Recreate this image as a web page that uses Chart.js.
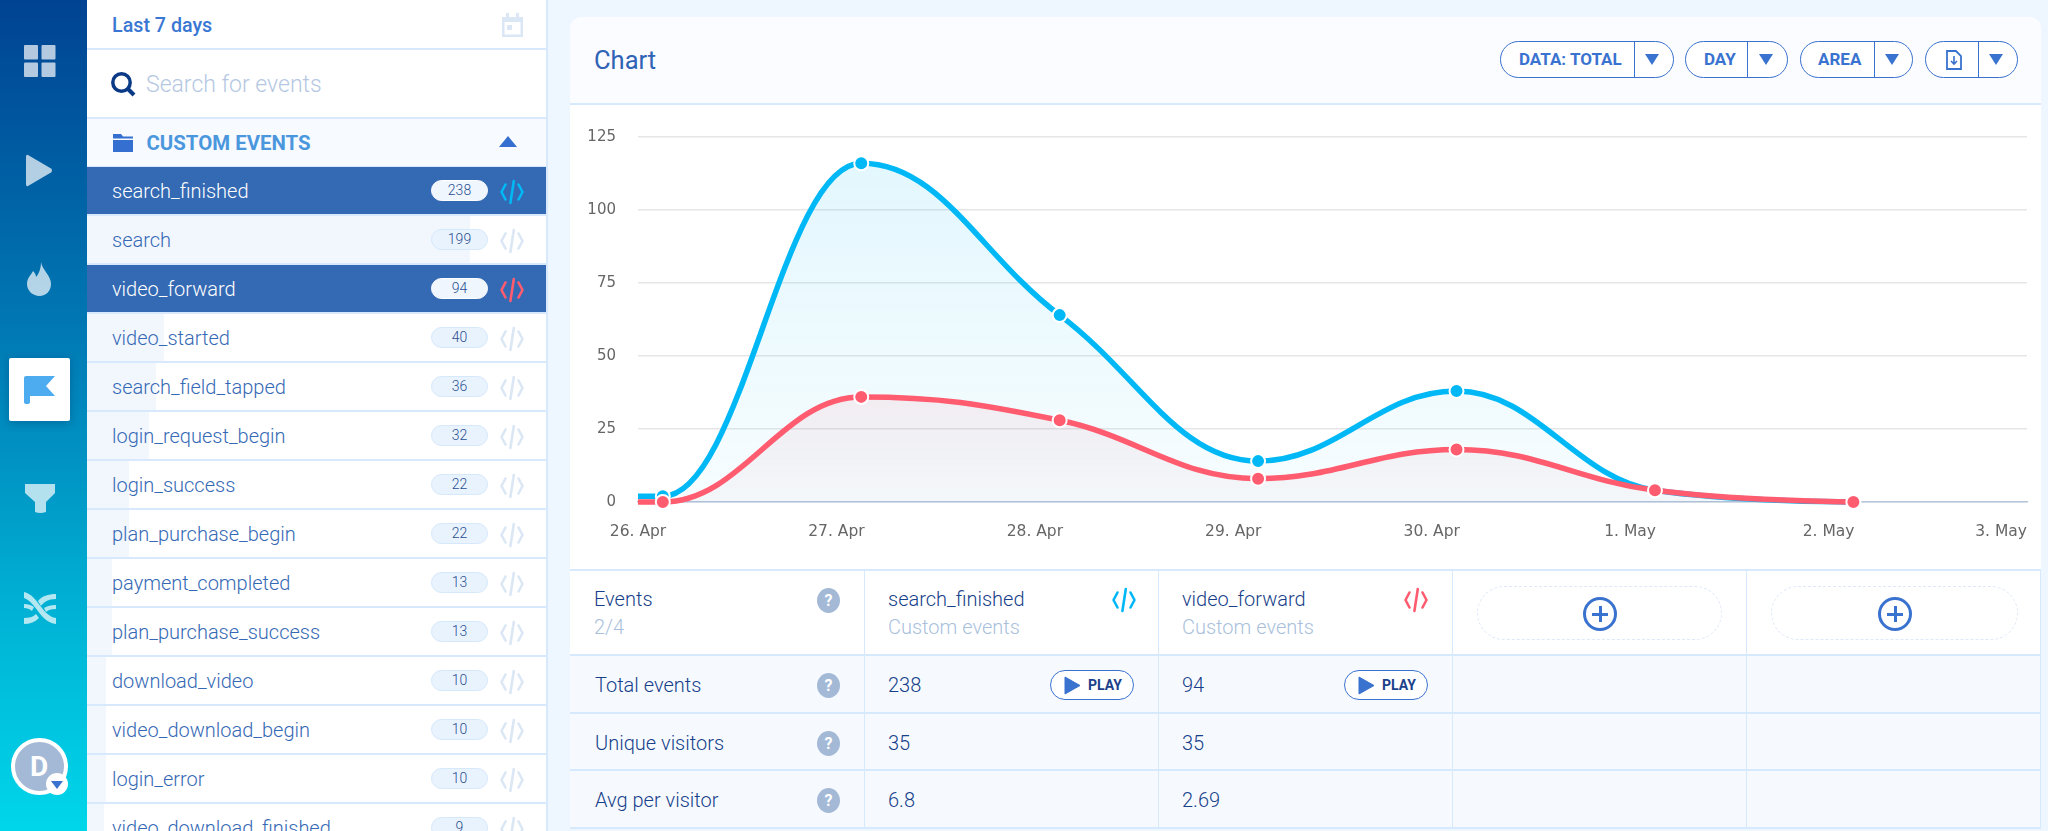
<!DOCTYPE html>
<html>
<head>
<meta charset="utf-8">
<title>Chart</title>
<script src="https://cdn.jsdelivr.net/npm/chart.js@4"></script>
<style>
    html, body { margin: 0; padding: 0; }
    body { width: 2048px; height: 831px; overflow: hidden; position: relative; background: #eef6ff; font-family: Roboto, sans-serif; }
    .abs, .abs-text { position: absolute; }
    .abs-text { white-space: nowrap; transform: translateY(-50%); }
    svg { position: absolute; overflow: visible; }
    #rail { left: 0; top: 0; width: 87px; height: 831px; background: linear-gradient(180deg, #004392 0%, #0079b4 40%, #00b4d6 75%, #00d6ea 100%); }
    #panel { left: 87px; top: 0; width: 459px; height: 831px; background: #fff; border-right: 2px solid #d8e9fd; box-sizing: content-box; overflow: hidden; }
    #card { left: 570px; top: 17px; width: 1471px; height: 811px; background: #fff; border-radius: 12px 12px 0 0; overflow: hidden; }
    #cardHeader { left: 0; top: 0; width: 1471px; height: 86px; background: #fafcff; border-bottom: 2px solid #d6e9fd; }
    #chartBox { left: 571px; top: 106px; width: 1470px; height: 463px; }
    .row { position: absolute; left: 0; width: 459px; height: 49px; box-sizing: border-box; border-bottom: 2px solid #d8e9fd; }
    .row .fill { position: absolute; left: 0; top: 0; bottom: 0; background: #f2f7fe; }
    .row.active { background: #3469b3; }
    .row.active .fill { display: none; }
    .row .name { position: absolute; left: 25px; top: 23.5px; transform: translateY(-50%); font-size: 20px; font-weight: 300; color: #3569b5; white-space: nowrap; }
    .row.active .name { color: #fff; }
    .row .badge { position: absolute; left: 344px; top: 13px; width: 57px; height: 21px; box-sizing: border-box; border-radius: 11px; background: #e9f3fe; border: 1px solid #d6e8fc; color: #2b4f91; font-size: 14px; font-weight: 300; text-align: center; line-height: 19px; }
    .row.active .badge { background: #eff6fe; border-color: #fff; }
    .pill { position: absolute; top: 41px; height: 37px; box-sizing: border-box; border: 1.5px solid #3a72cf; border-radius: 19px; background: #fff; }
    .pill .divider { position: absolute; top: 0; bottom: 0; width: 1.5px; background: #3a72cf; }
    .pill .caption { position: absolute; top: 17px; transform: translateY(-50%); font-size: 17px; font-weight: 700; color: #3a72cf; white-space: nowrap; }
    .tri { position: absolute; width: 0; height: 0; border-left: 7px solid transparent; border-right: 7px solid transparent; border-top: 11px solid #3a72cf; }
    .cell { position: absolute; box-sizing: border-box; border-right: 1.5px solid #d6e9fd; border-bottom: 2px solid #d6e9fd; }
    .help { position: absolute; width: 23px; height: 25px; border-radius: 50%; background: #a3b9d6; color: #fff; font-size: 16px; font-weight: 700; text-align: center; line-height: 25px; }
    .play { position: absolute; top: 670px; height: 30px; box-sizing: border-box; border: 1.5px solid #3a72cf; border-radius: 15px; background: #fff; color: #1c418b; font-size: 14px; font-weight: 700; }
    .dashed { position: absolute; top: 586px; height: 54px; box-sizing: border-box; border: 1.5px dashed #dfe8f8; border-radius: 27px; }
    .plus { position: absolute; top: 597px; width: 34px; height: 34px; box-sizing: border-box; border: 3px solid #3a72cf; border-radius: 50%; color: #3a72cf; }
    .plus:before { content: ""; position: absolute; left: 6px; top: 12.5px; width: 16px; height: 3px; background: #3a72cf; }
    .plus:after { content: ""; position: absolute; left: 12.5px; top: 6px; width: 3px; height: 16px; background: #3a72cf; }
</style>
</head>
<body>
<div id="rail" class="abs"></div>
<div id="panel" class="abs"></div>
<div id="card" class="abs"><div id="cardHeader" class="abs"></div></div>
<div id="chartBox" class="abs"><canvas id="eventsChart"></canvas></div>
<div id="overlay"></div>

<script>
// Chart data
const dayLabels = ['26. Apr', '27. Apr', '28. Apr', '29. Apr', '30. Apr', '1. May', '2. May', '3. May'];
// points sit 3 hours after each day tick, the first one is off the left edge
const sampleDays = [-0.875, 0.125, 1.125, 2.125, 3.125, 4.125, 5.125, 6.125];
const searchFinishedValues = [2, 2, 116, 64, 14, 38, 4, 0];
const videoForwardValues = [0, 0, 36, 28, 8, 18, 4, 0];
const pointSizes = [0, 7, 7, 7, 7, 7, 7, 7];

// Sidebar data
const eventNames = ['search_finished', 'search', 'video_forward', 'video_started', 'search_field_tapped', 'login_request_begin', 'login_success', 'plan_purchase_begin', 'payment_completed', 'plan_purchase_success', 'download_video', 'video_download_begin', 'login_error', 'video_download_finished'];
const eventCounts = [238, 199, 94, 40, 36, 32, 22, 22, 13, 13, 10, 10, 10, 9];
const selectedEvents = ['search_finished', 'video_forward'];

// Table data
const statLabels = ['Total events', 'Unique visitors', 'Avg per visitor'];
const searchFinishedStats = ['238', '35', '6.8'];
const videoForwardStats = ['94', '35', '2.69'];

const BLUE = '#00b8f5';
const RED = '#ff5c70';

const overlay = document.getElementById('overlay');
const panel = document.getElementById('panel');

function addText(parent, text, x, y, size, weight, color) {
    const el = document.createElement('div');
    el.className = 'abs-text';
    el.textContent = text;
    el.style.cssText = `left:${x}px;top:${y}px;font-size:${size}px;font-weight:${weight};color:${color}`;
    parent.appendChild(el);
    return el;
}

function addSvg(parent, x, y, w, h, inner) {
    const html = `<svg style="left:${x}px;top:${y}px" width="${w}" height="${h}" viewBox="0 0 ${w} ${h}">${inner}</svg>`;
    parent.insertAdjacentHTML('beforeend', html);
}

function codeIcon(parent, x, y, color) {
    addSvg(parent, x, y, 24, 24, `<g fill="none" stroke="${color}" stroke-width="2.6" stroke-linecap="round" stroke-linejoin="round">
        <path d="M5.5 4.5 L1.5 12 L5.5 19.5"/><path d="M18.5 4.5 L22.5 12 L18.5 19.5"/><path d="M13.8 1 L10.4 23"/></g>`);
}

// Left rail icons
function drawRail() {
    const icon = 'rgba(255,255,255,0.7)';
    addSvg(overlay, 24, 45, 32, 32, `<g fill="${icon}"><rect width="14" height="14.5" rx="1"/><rect x="17.5" width="14" height="14.5" rx="1"/><rect y="17.5" width="14" height="14.5" rx="1"/><rect x="17.5" y="17.5" width="14" height="14.5" rx="1"/></g>`);
    addSvg(overlay, 26, 154, 28, 33, `<path d="M2 1 L25 14.5 Q27 16.5 25 18.5 L2 32 Q0 33 0 30 L0 3 Q0 0 2 1 Z" fill="${icon}"/>`);
    addSvg(overlay, 27, 262, 25, 34, `<path d="M14 0 C15 8 24 13 24 22 C24 29 19 34 12.500 34 C6 34 0 29 0 22 C0 16 4 13 6 9 C8 11 9 13 9 15 C12 12 14 6 14 0 Z" fill="${icon}"/>`);

    const box = document.createElement('div');
    box.className = 'abs';
    box.style.cssText = 'left:9px;top:358px;width:61px;height:63px;background:#fff;border-radius:2px;box-shadow:0 2px 8px rgba(0,40,90,.3)';
    overlay.appendChild(box);
    addSvg(overlay, 24, 376, 32, 28, `<path d="M0 2 Q0 0 2 0 L31 0 L22 10 L31 20 L6 20 L6 26 Q6 28 3 28 Q0 28 0 26 Z" fill="#4dabf0"/>`);

    addSvg(overlay, 25, 484, 31, 29, `<path d="M0 0 L30 0 L30 9 L21 18 L21 28 Q15 30 10 28 L10 18 L0 9 Z" fill="${icon}"/>`);
    addSvg(overlay, 24, 592, 33, 32, `<g fill="${icon}"><path d="M0 0 C14 3 18 24 32 26 L32 32 C16 30 12 10 0 6 Z"/><path d="M32 2 L32 7 C24 7 20 10 17 14 L14 9 C18 4 24 2 32 2 Z"/><path d="M32 13 L32 17 C27 17 24 18 22 20 L20 16 C23 14 27 13 32 13 Z"/><path d="M0 12 C4 12 7 13 10 15 L8 19 C6 17 3 16 0 16 Z"/><path d="M0 26 C5 26 9 25 12 22 L15 26 C11 30 6 32 0 32 Z"/></g>`);

    // avatar
    const avatar = document.createElement('div');
    avatar.className = 'abs';
    avatar.style.cssText = 'left:11px;top:738px;width:57px;height:57px;box-sizing:border-box;border:4px solid #fff;border-radius:50%;background:#a3b9d6;';
    overlay.appendChild(avatar);
    const letter = addText(overlay, 'D', 30, 766, 28, 700, '#fff');
    letter.style.zIndex = 2;
    const badge = document.createElement('div');
    badge.className = 'abs';
    badge.style.cssText = 'left:46px;top:773px;width:22px;height:22px;border-radius:50%;background:#fff;z-index:3';
    overlay.appendChild(badge);
    const tri = document.createElement('div');
    tri.className = 'tri';
    tri.style.cssText = 'left:51px;top:781px;border-left-width:6px;border-right-width:6px;border-top-width:8px;z-index:4';
    overlay.appendChild(tri);
}

// Date, search and event list
function drawPanel() {
    const line = (y) => {
        const el = document.createElement('div');
        el.className = 'abs';
        el.style.cssText = `left:0;top:${y}px;width:459px;height:2px;background:#d8e9fd`;
        panel.appendChild(el);
    };
    const head = document.createElement('div');
    head.className = 'abs';
    head.style.cssText = 'left:0;top:118px;width:459px;height:48px;background:#f7faff';
    panel.appendChild(head);
    line(48);
    line(117);
    line(166);

    addText(panel, 'Last 7 days', 25, 25, 19.7, 500, '#3a77d3');
    addSvg(panel, 415, 13, 21, 24, `<path d="M0 4 H21 V24 H0 Z M2.500 9 V21.500 H18.500 V9 Z M4 0 H7 V4 H4 Z M14 0 H17 V4 H14 Z" fill="#dbe7f5" fill-rule="evenodd"/><rect x="5" y="12" width="5" height="5" fill="#dbe7f5"/>`);
    addSvg(panel, 24, 72, 25, 24, `<circle cx="10.500" cy="10.500" r="8.700" fill="none" stroke="#0a3a86" stroke-width="3.500"/><path d="M17 17 L23 23" stroke="#0a3a86" stroke-width="4"/>`);
    addText(panel, 'Search for events', 59, 84, 23, 300, '#b4c7e2');

    addSvg(panel, 26, 134, 20, 18, `<path d="M0 0 H8 L10 2.500 H20 V4.500 H0 Z M0 6 H20 V18 H0 Z" fill="#3570d0"/>`);
    addText(panel, 'CUSTOM EVENTS', 59.5, 143, 20.4, 700, '#4b97dd');
    addSvg(panel, 412, 136, 18, 11, `<path d="M9 0 L18 11 H0 Z" fill="#3570d0"/>`);

    eventNames.forEach((name, i) => {
        const active = selectedEvents.includes(name);
        const row = document.createElement('div');
        row.className = 'row' + (active ? ' active' : '');
        row.style.top = (167 + i * 49) + 'px';
        row.innerHTML = `<div class="fill" style="width:${eventCounts[i] / eventCounts[0] * 458}px"></div>
            <div class="name">${name}</div><div class="badge">${eventCounts[i]}</div>`;
        panel.appendChild(row);
        let color = '#dbe7f5';
        if (active)
            color = i === 0 ? BLUE : RED;
        codeIcon(row, 413, 12.500, color);
    });
}

// Buttons in the card header
function addPill(left, right, divider, caption, captionLeft) {
    const pill = document.createElement('div');
    pill.className = 'pill';
    pill.style.cssText = `left:${left}px;width:${right - left}px`;
    pill.innerHTML = `<div class="divider" style="left:${divider - left - 1.5}px"></div>
        <div class="tri" style="left:${divider - left + (right - divider) / 2 - 10}px;top:12px"></div>`;
    if (caption)
        pill.insertAdjacentHTML('beforeend', `<div class="caption" style="left:${captionLeft}px">${caption}</div>`);
    overlay.appendChild(pill);
    return pill;
}

function drawHeader() {
    addText(overlay, 'Chart', 594, 60, 25.5, 400, '#2f63b5');
    addPill(1500, 1674, 1634, 'DATA: TOTAL', 18);
    addPill(1685, 1788, 1747, 'DAY', 18);
    addPill(1800, 1913, 1874, 'AREA', 17);
    const filePill = addPill(1925, 2018, 1978);
    addSvg(filePill, 20, 8, 16, 20, `<path d="M1 1 H10 L15 6 V19 H1 Z" fill="none" stroke="#3a72cf" stroke-width="1.800"/><path d="M8 6 V14 M5 11 L8 14 L11 11" fill="none" stroke="#3a72cf" stroke-width="1.600"/>`);
}

// Table under the chart
function drawTable() {
    const cols = [570, 865, 1159, 1453, 1747, 2041];
    const rows = [570, 656, 714, 771, 829];
    rows.slice(0, -1).forEach((top, r) => {
        cols.slice(0, -1).forEach((left, c) => {
            const cell = document.createElement('div');
            cell.className = 'cell';
            cell.style.cssText = `left:${left}px;top:${top}px;width:${cols[c + 1] - left}px;height:${rows[r + 1] - top}px;background:${r === 0 ? '#fff' : '#f6faff'}`;
            overlay.appendChild(cell);
        });
    });
    const topLine = document.createElement('div');
    topLine.className = 'abs';
    topLine.style.cssText = 'left:570px;top:569px;width:1471px;height:2px;background:#d6e9fd';
    overlay.appendChild(topLine);

    const help = (y) => {
        const el = document.createElement('div');
        el.className = 'help';
        el.textContent = '?';
        el.style.cssText = `left:817px;top:${y - 12.500}px`;
        overlay.appendChild(el);
    };

    addText(overlay, 'Events', 594, 599, 20, 300, '#173f8a');
    addText(overlay, '2/4', 594, 627, 20, 300, '#a9bfdc');
    help(600);

    addText(overlay, 'search_finished', 888, 599, 20, 300, '#173f8a');
    addText(overlay, 'Custom events', 888, 627, 20, 300, '#a9bfdc');
    codeIcon(overlay, 1112, 588, BLUE);
    addText(overlay, 'video_forward', 1182, 599, 20, 300, '#173f8a');
    addText(overlay, 'Custom events', 1182, 627, 20, 300, '#a9bfdc');
    codeIcon(overlay, 1404, 588, RED);

    [1477, 1771].forEach((left, i) => {
        const box = document.createElement('div');
        box.className = 'dashed';
        box.style.cssText = `left:${left}px;width:${i === 0 ? 245 : 247}px`;
        overlay.appendChild(box);
        const plus = document.createElement('div');
        plus.className = 'plus';
        plus.style.left = (i === 0 ? 1583 : 1878) + 'px';
        overlay.appendChild(plus);
    });

    const rowCentres = [685, 743, 800];
    statLabels.forEach((label, r) => {
        const y = rowCentres[r];
        addText(overlay, label, 595, y, 20, 300, '#173f8a');
        help(y);
        addText(overlay, searchFinishedStats[r], 888, y, 20, 300, '#173f8a');
        addText(overlay, videoForwardStats[r], 1182, y, 20, 300, '#173f8a');
    });

    [1050, 1344].forEach((left) => {
        const btn = document.createElement('div');
        btn.className = 'play';
        btn.style.cssText = `left:${left}px;width:84px`;
        btn.insertAdjacentHTML('beforeend', `<svg style="left:13px;top:5px" width="17" height="19"><path d="M1 1 L16 9.500 L1 18 Z" fill="#3a72cf" stroke="#3a72cf" stroke-linejoin="round"/></svg><span style="position:absolute;left:37px;top:6px">PLAY</span>`);
        overlay.appendChild(btn);
    });
}

drawRail();
drawPanel();
drawHeader();
drawTable();

// Area fill gets lighter towards the base line
function areaGradient(context, values, topColor, bottomColor) {
    const {chart} = context;
    if (!chart.chartArea)
        return topColor;
    const y = chart.scales.y;
    const gradient = chart.ctx.createLinearGradient(0, y.getPixelForValue(Math.max(...values)), 0, y.getPixelForValue(0));
    gradient.addColorStop(0, topColor);
    gradient.addColorStop(1, bottomColor);
    return gradient;
}

// Last tick label is right aligned on the plot edge, the others stay centred
const lastLabelPlugin = {
    id: 'lastLabel',
    beforeDraw(chart) {
        const x = chart.scales.x;
        const items = x.getLabelItems();
        const last = items[items.length - 1];
        last.options.textAlign = 'right';
        last.options.translation[0] = x.right;
    }
};

// Rounder spline: control points 40% towards the neighbours, no overshoot past them
const splinePlugin = {
    id: 'spline',
    beforeDatasetsDraw(chart) {
        chart.getSortedVisibleDatasetMetas().forEach((meta) => {
            meta.dataset.updateControlPoints(chart.chartArea);
            const pts = meta.data;
            pts.forEach((p, i) => {
                if (i === 0 || i === pts.length - 1) {
                    p.cp1x = p.cp2x = p.x;
                    p.cp1y = p.cp2y = p.y;
                    return;
                }
                const prev = pts[i - 1];
                const next = pts[i + 1];
                const leftX = (1.5 * p.x + prev.x) / 2.5;
                const rightX = (1.5 * p.x + next.x) / 2.5;
                let leftY = (1.5 * p.y + prev.y) / 2.5;
                let rightY = (1.5 * p.y + next.y) / 2.5;
                const correction = (rightY - leftY) * (rightX - p.x) / (rightX - leftX) + p.y - rightY;
                leftY += correction;
                rightY += correction;
                if ((leftY > prev.y && leftY > p.y) || (leftY < prev.y && leftY < p.y)) {
                    leftY = leftY > p.y ? Math.max(prev.y, p.y) : Math.min(prev.y, p.y);
                    rightY = 2 * p.y - leftY;
                }
                if ((rightY > next.y && rightY > p.y) || (rightY < next.y && rightY < p.y)) {
                    rightY = rightY > p.y ? Math.max(next.y, p.y) : Math.min(next.y, p.y);
                    leftY = 2 * p.y - rightY;
                }
                p.cp1x = leftX;
                p.cp1y = leftY;
                p.cp2x = rightX;
                p.cp2y = rightY;
            });
        });
    }
};

new Chart(document.getElementById('eventsChart'), {
    type: 'line',
    plugins: [lastLabelPlugin, splinePlugin],
    data: {
        datasets: [
            {
                label: 'search_finished',
                data: sampleDays.map((day, i) => ({x: day, y: searchFinishedValues[i]})),
                borderColor: BLUE,
                backgroundColor: (ctx) => areaGradient(ctx, searchFinishedValues, 'rgba(0, 184, 245, 0.11)', 'rgba(0, 184, 245, 0.03)'),
                pointBackgroundColor: BLUE,
                order: 2
            },
            {
                label: 'video_forward',
                data: sampleDays.map((day, i) => ({x: day, y: videoForwardValues[i]})),
                borderColor: RED,
                backgroundColor: (ctx) => areaGradient(ctx, videoForwardValues, 'rgba(255, 92, 112, 0.09)', 'rgba(150, 70, 100, 0.03)'),
                pointBackgroundColor: RED,
                order: 1
            }
        ]
    },
    options: {
        responsive: true,
        maintainAspectRatio: false,
        animation: false,
        layout: {padding: {right: 14}},
        datasets: {
            line: {
                fill: 'origin',
                borderWidth: 5.5,
                cubicInterpolationMode: 'monotone',
                pointRadius: pointSizes,
                pointBorderColor: '#fff',
                pointBorderWidth: 2,
                clip: {left: 0, right: 0, top: 10, bottom: 10}
            }
        },
        plugins: {
            legend: {display: false},
            tooltip: {enabled: false}
        },
        scales: {
            x: {
                type: 'linear',
                min: 0,
                max: dayLabels.length - 1,
                afterFit(scale) {
                    scale.height = 67;
                    scale.paddingRight = 0;
                    scale.paddingLeft = 0;
                },
                grid: {display: false},
                border: {color: '#b3c6dc', width: 1.5},
                ticks: {
                    stepSize: 1,
                    autoSkip: false,
                    maxRotation: 0,
                    padding: 13,
                    color: '#666',
                    font: {family: 'DejaVu Sans', size: 15.5},
                    callback: (value) => dayLabels[value]
                }
            },
            y: {
                min: 0,
                max: 125,
                afterFit(scale) {
                    scale.width = 67;
                },
                border: {display: false},
                grid: {color: '#e6e6e6', lineWidth: 1.5, drawTicks: false},
                ticks: {
                    stepSize: 25,
                    padding: 22,
                    color: '#666',
                    font: {family: 'DejaVu Sans', size: 15}
                }
            }
        }
    }
});
</script>
</body>
</html>
